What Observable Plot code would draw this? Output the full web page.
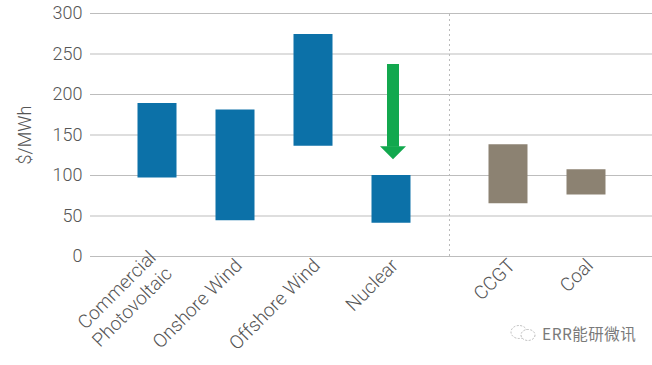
<!DOCTYPE html>
<html>
<head>
<meta charset="utf-8">
<script src="https://cdn.jsdelivr.net/npm/d3@7"></script>
<script src="https://cdn.jsdelivr.net/npm/@observablehq/plot@0.6"></script>
<style>
  html, body { margin: 0; padding: 0; background: #fff; }
  #wrap { position: relative; width: 652px; height: 365px; overflow: hidden; }
  #wm { position: absolute; left: 542px; top: 322px; font: 15.5px "Noto Sans CJK SC", sans-serif; color: #7a7a7a; letter-spacing: 0.5px; }
  #icon { position: absolute; left: 509px; top: 323px; }
</style>
</head>
<body>
<div id="wrap"></div>
<script>
// ---- data ----
const categories = ["Commercial\nPhotovoltaic", "Onshore Wind", "Offshore Wind", "Nuclear", "CCGT", "Coal"];
const groups = ["low-carbon", "low-carbon", "low-carbon", "low-carbon", "fossil", "fossil"];
const lows = [97, 44, 136, 41, 65, 76];
const highs = [189, 181, 274, 100, 138, 107];
const yTicks = [0, 50, 100, 150, 200, 250, 300];
const arrowCategory = "Nuclear";
const arrowFrom = 237;
const arrowTo = 120;

// ---- derived ----
const table = categories.map((c, i) => ({
  category: c,
  group: groups[i],
  pos: i + (groups[i] === "fossil" ? 0.5 : 0),
  low: lows[i],
  high: highs[i]
}));
const posToLabel = new Map(table.map(d => [d.pos, d.category]));
const lastClean = d3.max(table.filter(d => d.group === "low-carbon"), d => d.pos);
const firstFossil = d3.min(table.filter(d => d.group === "fossil"), d => d.pos);
const divider = [{x: (lastClean + firstFossil) / 2}];
const arrowPos = table.find(d => d.category === arrowCategory).pos;
const arrow = [{x: arrowPos, from: arrowFrom, to: arrowTo}];

const arrowHead = {
  draw(ctx) {
    ctx.moveTo(-13, -13);
    ctx.lineTo(13, -13);
    ctx.lineTo(0, 0);
    ctx.closePath();
  }
};

const chart = Plot.plot({
  width: 652,
  height: 365,
  marginLeft: 90,
  marginRight: 0,
  marginTop: 13,
  marginBottom: 109,
  style: {fontFamily: "Roboto, 'Liberation Sans', sans-serif", fontSize: "18px", color: "#555", background: "white", fontWeight: 300},
  x: {domain: [-0.8526, 6.3526]},
  y: {domain: [0, 300]},
  marks: [
    Plot.gridY(yTicks, {stroke: "#bdbdbd", strokeOpacity: 1, strokeWidth: 1}),
    Plot.axisY({ticks: yTicks, tickSize: 0, tickPadding: 8, label: "$/MWh", labelAnchor: "center", labelOffset: 72, labelArrow: "none", fontSize: 18}),
    Plot.axisX({ticks: table.map(d => d.pos), tickFormat: d => posToLabel.get(d), tickSize: 0, tickPadding: 5, tickRotate: -45, label: null, fontSize: 19, lineHeight: 1.2, dx: 3}),
    Plot.ruleX(divider, {x: "x", y1: 0, y2: 300, stroke: "#bbb", strokeDasharray: "2,3", strokeWidth: 1}),
    Plot.ruleX(table, {x: "pos", y1: "low", y2: "high", strokeWidth: 39, strokeLinecap: "butt",
      stroke: d => d.group === "fossil" ? "#8c8272" : "#0c71a8"}),
    Plot.ruleX(arrow, {x: "x", y1: "from", y2: "to", insetBottom: 12, stroke: "#12a84e", strokeWidth: 12, dx: 2}),
    Plot.dot(arrow, {x: "x", y: "to", symbol: arrowHead, fill: "#12a84e", stroke: "none", dx: 2})
  ]
});
const wrap = document.getElementById("wrap");
wrap.appendChild(chart);
const wm = document.createElement("div");
wm.id = "wm";
wm.textContent = "ERR能研微讯";
wrap.appendChild(wm);
const icon = document.createElement("div");
icon.id = "icon";
icon.innerHTML = '<svg width="30" height="20" viewBox="0 0 30 20"><ellipse cx="10" cy="9" rx="8" ry="6.5" fill="none" stroke="#bbb" stroke-dasharray="2,1.5"/><ellipse cx="19" cy="12" rx="7" ry="5.5" fill="white" stroke="#bbb" stroke-dasharray="2,1.5"/></svg>';
wrap.appendChild(icon);
</script>
</body>
</html>
